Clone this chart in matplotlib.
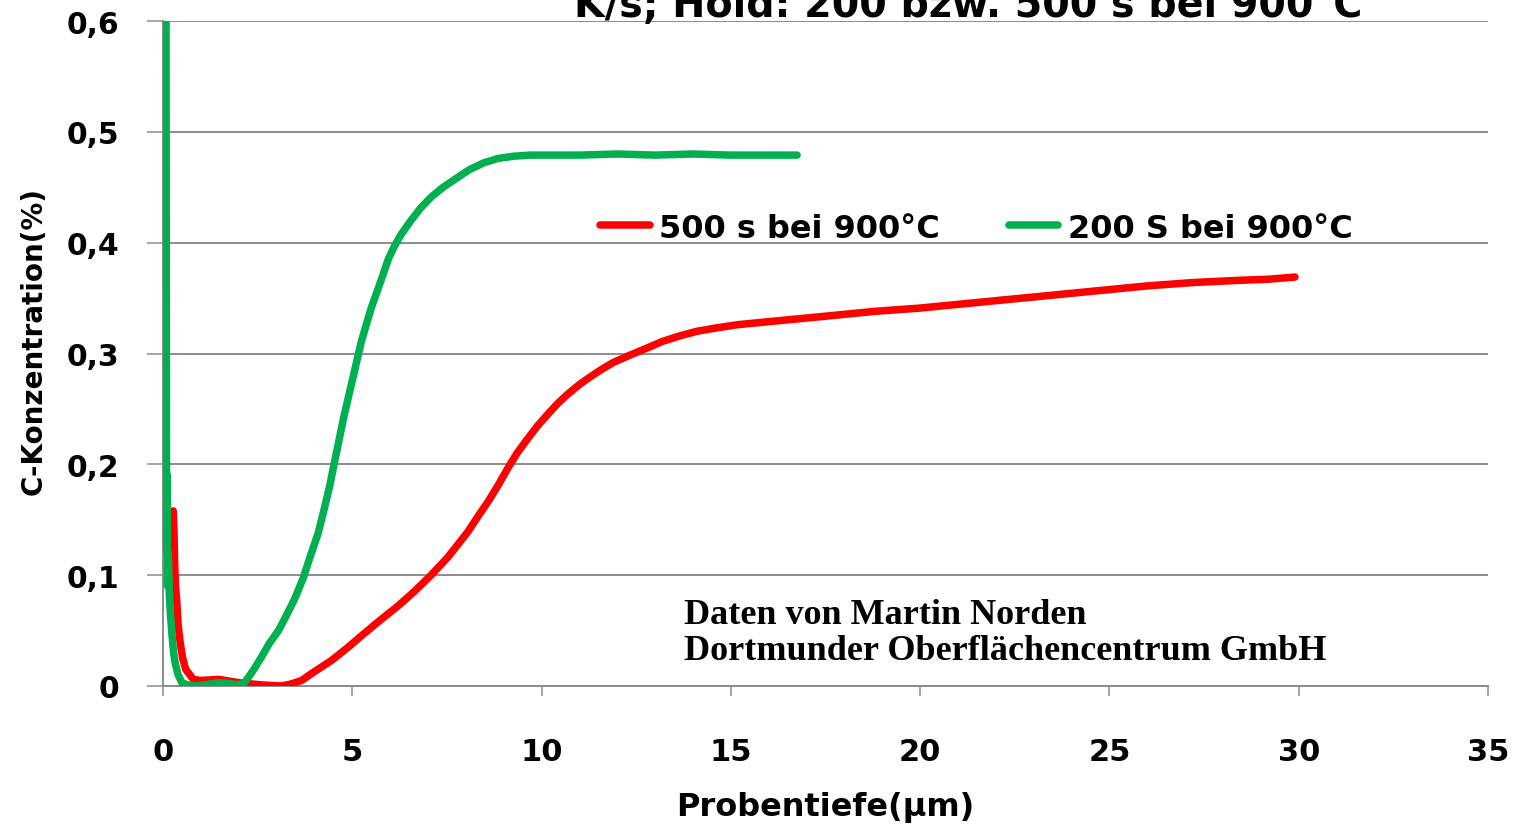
import matplotlib
matplotlib.use("Agg")
import matplotlib.pyplot as plt

# ---- data ----
g_x = [0.08, 0.09, 0.10, 0.11, 0.12, 0.14, 0.17, 0.20, 0.24, 0.28, 0.32, 0.40,
       0.50, 0.65, 0.84, 1.1, 1.47, 1.8, 2.0, 2.15, 2.26, 2.4, 2.6, 2.8, 3.05,
       3.25, 3.47, 3.7, 3.9, 4.1, 4.26, 4.4, 4.53, 4.79, 5.03, 5.24, 5.5, 5.76,
       5.95, 6.1, 6.3, 6.55, 6.8, 7.08, 7.4, 7.79, 8.1, 8.47, 8.85, 9.26, 9.7,
       10.24, 11, 12, 13, 14, 15, 16, 16.75]
g_y = [0.62, 0.23, 0.12, 0.19, 0.09, 0.12, 0.08, 0.063, 0.045, 0.03, 0.021, 0.01,
       0.003, 0.001, 0.0, 0.001, 0.003, 0.002, 0.001, 0.003, 0.008, 0.015, 0.026,
       0.038, 0.05, 0.063, 0.078, 0.097, 0.118, 0.138, 0.160, 0.180, 0.202, 0.245,
       0.28, 0.311, 0.341, 0.366, 0.385, 0.396, 0.408, 0.42, 0.431, 0.441, 0.45,
       0.459, 0.466, 0.472, 0.476, 0.478, 0.479, 0.479, 0.479, 0.48, 0.479, 0.48,
       0.479, 0.479, 0.479]

r_x = [0.27, 0.29, 0.31, 0.33, 0.36, 0.40, 0.45, 0.52, 0.6, 0.8, 1.0, 1.47, 2.0,
       2.6, 3.13, 3.4, 3.66, 4.0, 4.45, 4.89, 5.3, 5.76, 6.2, 6.63, 7.08, 7.52,
       8.05, 8.3, 8.58, 8.85, 9.1, 9.35, 9.63, 9.9, 10.16, 10.4, 10.68, 11.0,
       11.29, 11.6, 11.9, 12.3, 12.79, 13.2, 13.66, 14.1, 14.6, 15.18, 16.39,
       17.6, 18.79, 20, 21.2, 22.4, 23.6, 24.8, 26.0, 27.2, 28.4, 29.2, 29.9]
r_y = [0.158, 0.14, 0.108, 0.09, 0.078, 0.055, 0.04, 0.025, 0.015, 0.006, 0.005,
       0.006, 0.003, 0.001, 0.0, 0.002, 0.005, 0.013, 0.023, 0.035, 0.047, 0.06,
       0.072, 0.085, 0.1, 0.116, 0.139, 0.152, 0.166, 0.181, 0.196, 0.21, 0.223,
       0.235, 0.245, 0.254, 0.263, 0.272, 0.279, 0.286, 0.292, 0.298, 0.305,
       0.311, 0.316, 0.32, 0.323, 0.326, 0.33, 0.334, 0.338, 0.341, 0.345, 0.349,
       0.353, 0.357, 0.361, 0.364, 0.366, 0.367, 0.369]

x_ticks = [0, 5, 10, 15, 20, 25, 30, 35]
x_ticklabels = ["0", "5", "10", "15", "20", "25", "30", "35"]
y_ticks = [0, 0.1, 0.2, 0.3, 0.4, 0.5, 0.6]
y_ticklabels = ["0", "0,1", "0,2", "0,3", "0,4", "0,5", "0,6"]

label_red = "500 s bei 900°C"
label_green = "200 S bei 900°C"
title_line = "K/s; Hold: 200 bzw. 500 s bei 900°C"
note_lines = ["Daten von Martin Norden", "Dortmunder Oberflächencentrum GmbH"]

RED = "#FF0000"
GREEN = "#00B050"
GRID = "#8C8C8C"

plt.rcParams["font.family"] = ["DejaVu Sans"]

fig = plt.figure(figsize=(15.17, 8.29), dpi=100)
ax = fig.add_axes([163 / 1517, 1 - 687 / 829, (1488 - 163) / 1517, (687 - 22) / 829])

ax.plot(r_x, r_y, color=RED, lw=5.4, solid_capstyle="round",
        solid_joinstyle="round", label=label_red, zorder=3)
ax.plot(g_x, g_y, color=GREEN, lw=5.4, solid_capstyle="round",
        solid_joinstyle="round", label=label_green, zorder=4)

ax.set_xlim(0, 35)
ax.set_ylim(0, 0.6)
ax.set_xticks(x_ticks)
ax.set_xticklabels(x_ticklabels)
ax.set_yticks(y_ticks)
ax.set_yticklabels(y_ticklabels)

ax.grid(axis="y", color=GRID, lw=1.4, zorder=0)
for s in ["top", "right"]:
    ax.spines[s].set_visible(False)
for s in ["left", "bottom"]:
    ax.spines[s].set_color(GRID)
    ax.spines[s].set_linewidth(1.4)

ax.tick_params(axis="y", direction="out", length=11.5, width=1.1, color=GRID,
               pad=20, labelsize=21.5)
ax.tick_params(axis="x", direction="out", length=7.5, width=1.1, color=GRID,
               pad=29, labelsize=22)
for lbl in ax.get_xticklabels() + ax.get_yticklabels():
    lbl.set_fontweight("bold")

ax.set_xlabel("Probentiefe(µm)", fontsize=23, fontweight="bold", va="top")
ax.xaxis.set_label_coords(0.5, -0.158)
ax.set_ylabel("C-Konzentration(%)", fontsize=20, fontweight="bold")
ax.yaxis.set_label_coords(-0.087, 0.52)

leg = ax.legend(loc="center left", bbox_to_anchor=((600 - 163) / 1325, (687 - 229) / 665),
                ncol=2, frameon=False, prop={"weight": "bold", "size": 23},
                handlelength=1.55, handletextpad=0.3, columnspacing=2.15,
                borderpad=0, borderaxespad=0)
for h in leg.get_lines():
    h.set_linewidth(5.4)

fig.text(968 / 1517, 1 - 17 / 829, title_line, ha="center", va="baseline",
         fontsize=28.5, fontweight="bold")

ax.text((684 - 163) / 1325, (687 - 624) / 665, note_lines[0], transform=ax.transAxes,
        ha="left", va="baseline", fontsize=26, fontweight="bold",
        family="Liberation Serif")
ax.text((684 - 163) / 1325, (687 - 660) / 665, note_lines[1], transform=ax.transAxes,
        ha="left", va="baseline", fontsize=26, fontweight="bold",
        family="Liberation Serif")

fig.savefig("out.png", dpi=100)
